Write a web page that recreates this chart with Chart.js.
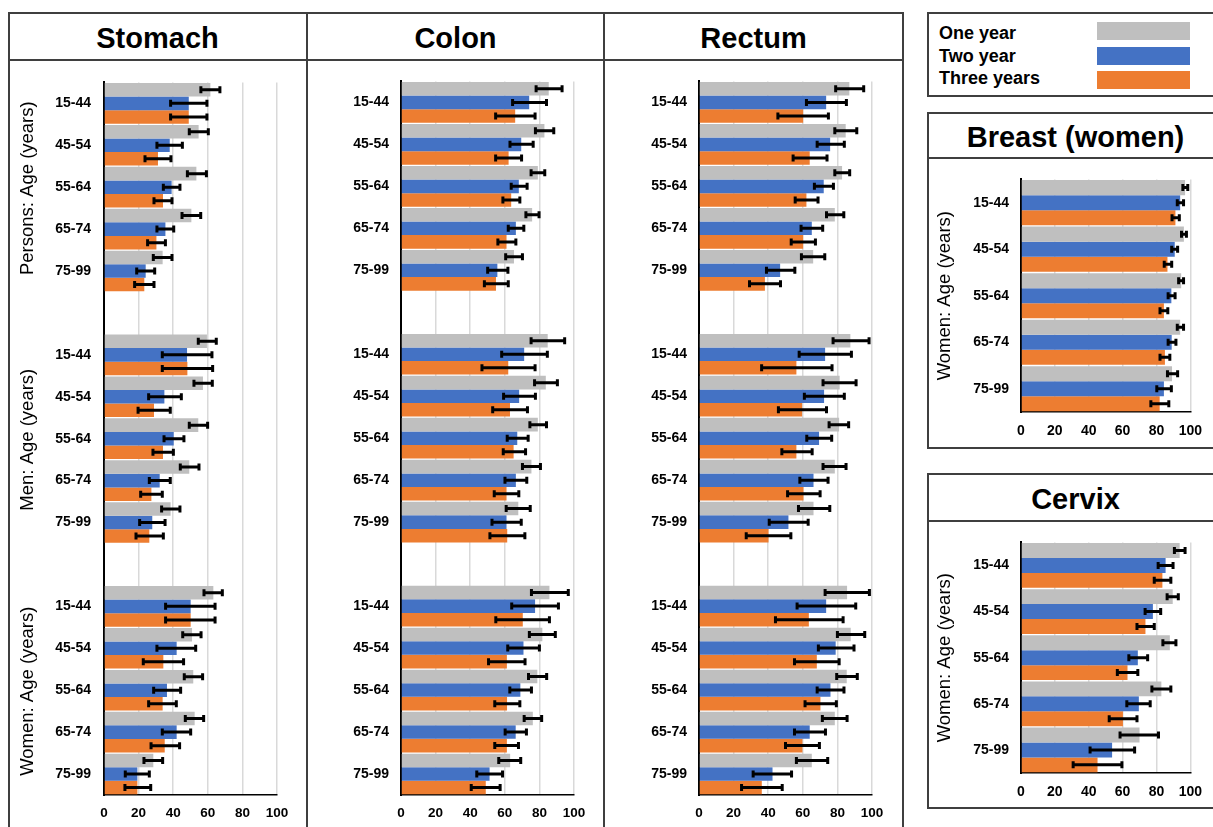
<!DOCTYPE html>
<html><head><meta charset="utf-8">
<script src="https://cdn.jsdelivr.net/npm/chart.js@4.4.1/dist/chart.umd.min.js"></script>
<style>
body{margin:0;width:1213px;height:827px;overflow:hidden;background:#fff;font-family:"Liberation Sans",Arial,sans-serif;position:relative}
.box{position:absolute;border:2px solid #3f3f3f;box-sizing:border-box}
.line{position:absolute;background:#3f3f3f}
.title{position:absolute;display:flex;align-items:center;justify-content:center;font-weight:bold;font-size:29px;color:#000;padding-top:5px;box-sizing:border-box}
canvas{position:absolute}
.lg{position:absolute;font-weight:bold;font-size:18px;color:#000;line-height:20px}
.sw{position:absolute;width:93px;height:18px}
</style></head>
<body>
<div class="box" style="left:8px;top:12px;width:896px;height:840px"></div>
<div class="line" style="left:8px;top:59px;width:896px;height:2px"></div>
<div class="line" style="left:306px;top:12px;width:2px;height:830px"></div>
<div class="line" style="left:603px;top:12px;width:2px;height:830px"></div>
<div class="title" style="left:8px;top:13px;width:299px;height:46px">Stomach</div>
<div class="title" style="left:307px;top:13px;width:297px;height:46px">Colon</div>
<div class="title" style="left:604px;top:13px;width:299px;height:46px">Rectum</div>

<div class="box" style="left:927px;top:12px;width:300px;height:85px"></div>
<div class="lg" id="lg0" style="left:939px;top:23px">One year</div>
<div class="lg" id="lg1" style="left:939px;top:46px">Two year</div>
<div class="lg" id="lg2" style="left:939px;top:68px">Three years</div>
<div class="sw" id="sw0" style="left:1097px;top:22px"></div>
<div class="sw" id="sw1" style="left:1097px;top:47px"></div>
<div class="sw" id="sw2" style="left:1097px;top:71px"></div>

<div class="box" style="left:927px;top:112px;width:300px;height:337px"></div>
<div class="line" style="left:927px;top:157px;width:300px;height:2px"></div>
<div class="title" style="left:927px;top:113px;width:297px;height:44px">Breast (women)</div>

<div class="box" style="left:927px;top:473px;width:300px;height:336px"></div>
<div class="line" style="left:927px;top:520px;width:300px;height:2px"></div>
<div class="title" style="left:927px;top:474px;width:297px;height:46px">Cervix</div>

<canvas id="stomach" width="296" height="766" style="left:10px;top:61px"></canvas>
<canvas id="colon" width="295" height="766" style="left:308px;top:61px"></canvas>
<canvas id="rectum" width="297" height="766" style="left:605px;top:61px"></canvas>
<canvas id="breast" width="284" height="288" style="left:929px;top:159px"></canvas>
<canvas id="cervix" width="284" height="285" style="left:929px;top:522px"></canvas>

<script>
// ---------- categories ----------
const ageGroups = ['15-44','45-54','55-64','65-74','75-99'];
const groupTitles = ['Persons: Age (years)','Men: Age (years)','Women: Age (years)'];
const seriesNames = ['One year','Two year','Three years'];
const seriesColors = ['#bfbfbf','#4472c4','#ed7d31'];
const xTicks = [0,20,40,60,80,100];

// ---------- Stomach (Persons, Men, Women x 5 ages) ----------
const stomachOne   = [61.5,54.7,53.4,50.5,33.9, 59.5,57.2,54.5,49.3,38.5, 63.2,50.9,51.6,52.4,28.5];
const stomachOneCI = [[56,67],[49.3,60.3],[48.2,59.2],[45.1,55.9],[28.5,39.3], [54.5,64.9],[52,62.6],[49.3,59.9],[44.1,54.9],[33.3,43.9], [57.8,68.4],[45.5,56.1],[46.4,57],[47,57.6],[23.1,33.9]];
const stomachTwo   = [49,38,39.1,35.5,24.1, 48,34.9,40.3,32.2,27.9, 50.1,42,36.4,42,19.3];
const stomachTwoCI = [[38.5,59.5],[30.6,45.3],[34.3,43.9],[30.6,40.3],[18.9,29.3], [33.7,62.4],[25.8,44.7],[34.7,46.2],[26.2,38.3],[20.6,35.3], [35.6,64.2],[30.6,53],[28.7,44.3],[33.7,50.1],[12.3,26.2]];
const stomachThree   = [49,31.2,34.1,30.3,23.3, 48.2,28.9,34.1,27.4,26.2, 50.1,34.3,33.9,35.1,19.3];
const stomachThreeCI = [[38.5,59.5],[23.7,38.7],[28.9,39.3],[25.2,35.5],[17.7,28.9], [33.7,62.8],[19.7,38.3],[28.3,40.1],[21.2,33.7],[18.5,34.3], [35.6,64.2],[22.7,46],[25.8,41.8],[27.2,43.7],[12.1,27]];

// ---------- Colon ----------
const colonOne   = [85.4,82.9,79.1,75.8,65.3, 84.8,83.7,79.1,75.4,67.8, 85.8,81.7,78.8,76.2,63.1];
const colonOneCI = [[78.1,93.1],[77.7,88.3],[75.2,83.1],[72.2,79.8],[60.5,70.2], [75.2,94.6],[77.2,90.4],[74.5,84.1],[70.2,80.6],[60.8,74.7], [75.4,96.7],[74.2,89.2],[73.7,84.2],[71.2,81.3],[56.5,69.2]];
const colonTwo   = [74.1,69.5,68.1,66.4,55.7, 71.2,68.3,67.2,66.4,61, 77.5,70.8,69,66.3,51.2];
const colonTwoCI = [[64.5,84.1],[63,76.4],[63.7,72.9],[62,71],[50.1,61.8], [58.2,84.6],[59.3,77.7],[61.4,73.5],[60.1,72.7],[52.6,69.5], [64,91],[61.7,80],[62.9,75.4],[60.2,72.5],[43.8,58.7]];
const colonThree   = [66,62.2,63.7,61,54.9, 62,63,65.1,61,61.4, 70.4,61.2,61.3,61.2,49];
const colonThreeCI = [[54.7,77.5],[54.7,69.7],[58.9,68.7],[56,66.4],[48.2,62], [46.8,77.5],[53,73.1],[59.1,72],[53.9,68.1],[51.4,71.6], [54.8,85.8],[50.6,71.7],[54.2,68.7],[54.2,67.9],[40.6,57.3]];

// ---------- Rectum ----------
const rectumOne   = [86.9,84.8,82.7,78.5,66, 87.5,81.3,81,78.5,66.2, 85.6,87.7,85.4,78.5,65.2];
const rectumOneCI = [[79,95.2],[78.5,91.2],[78.5,87.1],[73.7,83.7],[59.2,72.7], [77.5,98.3],[71.7,90.8],[75.2,86.5],[71.7,85],[57.5,75.6], [72.9,98.5],[80,95.8],[79.6,91.5],[71.3,85.6],[56.3,74.4]];
const rectumTwo   = [73.5,75.8,72.1,65.2,46.9, 72.9,72.3,69.4,66.2,51.7, 73.5,79,76,64,42.5];
const rectumTwoCI = [[62.1,85.2],[68.3,84],[66.7,77.7],[59,71.5],[39,55.4], [57.9,88.1],[60.9,84],[62.3,76.7],[58.3,74.6],[40.6,63.1], [56.7,90.6],[69,89.6],[68.3,83.8],[55.2,73.1],[31.3,53.5]];
const rectumThree   = [60.2,64,62.1,60.2,38.1, 56.3,59.6,56.3,60.4,40.2, 63.5,68.1,70.2,59.8,36.3];
const rectumThreeCI = [[45.6,74.8],[54.4,74],[55.6,68.8],[53.3,67.3],[29.2,47.1], [36.2,76.9],[45.9,73.7],[47.9,65.4],[51.2,70],[27.3,53.1], [44.2,83.3],[55.2,81],[61.3,79.4],[50,69.6],[24.6,48.1]];

// ---------- Breast (women) ----------
const breastOne   = [96.9,96.2,94.6,94,89.2];
const breastOneCI = [[95.6,98.5],[94.8,97.7],[93.1,96],[92.3,96],[86.5,92.5]];
const breastTwo   = [94,90.8,88.8,89,84.4];
const breastTwoCI = [[92.3,96],[89,92.5],[86.9,91],[86.9,91.5],[80.2,88.8]];
const breastThree   = [91.2,86.5,84.4,85,81.9];
const breastThreeCI = [[89.2,93.5],[84.6,89],[82.1,86.7],[82.1,87.9],[76.7,87.3]];

// ---------- Cervix ----------
const cervixOne   = [93.7,89.6,87.9,82.9,70];
const cervixOneCI = [[90.6,96.9],[86.3,92.9],[83.8,91.5],[77.3,88.5],[58.5,81.2]];
const cervixTwo   = [85.4,77.9,69,69.6,53.8];
const cervixTwoCI = [[81,89.8],[73.3,82.5],[63.7,74.8],[62.5,76.3],[40.8,67.1]];
const cervixThree   = [83.5,73.5,62.9,60.2,45.2];
const cervixThreeCI = [[78.7,88.5],[68.5,78.7],[56.9,69],[52.1,68.5],[30.8,59.6]];

// ---------- legend ----------
seriesNames.forEach((n,i)=>{document.getElementById('lg'+i).textContent=n;document.getElementById('sw'+i).style.background=seriesColors[i];});

// helpers
const withGaps = a => [...a.slice(0,5), null, ...a.slice(5,10), null, ...a.slice(10,15)];
const threeGroupLabels = withGaps([...ageGroups,...ageGroups,...ageGroups]).map(v=>v===null?'':v);

const errorBarPlugin = {
  id:'errorBars',
  afterDatasetsDraw(chart){
    const ctx = chart.ctx, xs = chart.scales.x;
    ctx.save();
    ctx.strokeStyle = '#000'; ctx.lineWidth = 3; ctx.lineCap = 'butt';
    chart.data.datasets.forEach((ds,i)=>{
      const meta = chart.getDatasetMeta(i);
      (ds.errorBars||[]).forEach((e,j)=>{
        if(!e) return;
        const el = meta.data[j]; if(!el) return;
        const y = el.y, x1 = xs.getPixelForValue(e[0]), x2 = xs.getPixelForValue(e[1]);
        ctx.beginPath();
        ctx.moveTo(x1,y); ctx.lineTo(x2,y);
        ctx.moveTo(x1,y-3.5); ctx.lineTo(x1,y+3.5);
        ctx.moveTo(x2,y-3.5); ctx.lineTo(x2,y+3.5);
        ctx.stroke();
      });
    });
    ctx.restore();
  }
};

const groupTitlePlugin = {
  id:'groupTitles',
  afterDraw(chart, args, opts){
    if(!opts || !opts.items) return;
    const ys = chart.scales.y, ctx = chart.ctx;
    opts.items.forEach(it=>{
      const y = (ys.getPixelForValue(it.first) + ys.getPixelForValue(it.last))/2 + (opts.dy||0);
      ctx.save();
      ctx.translate(opts.x, y); ctx.rotate(-Math.PI/2);
      ctx.font = '18.5px "Liberation Sans", Arial, sans-serif';
      ctx.fillStyle = '#000'; ctx.textAlign = 'center'; ctx.textBaseline = 'middle';
      ctx.fillText(it.text, 0, 0);
      ctx.restore();
    });
  }
};

function makeChart(id, labels, series, cis, o){
  const datasets = series.map((d,i)=>({
    label: seriesNames[i], data: d, errorBars: cis[i],
    backgroundColor: seriesColors[i], borderWidth: 0,
    categoryPercentage: 0.97, barPercentage: 1.0
  }));
  return new Chart(document.getElementById(id), {
    type:'bar',
    data:{labels, datasets},
    plugins:[errorBarPlugin, groupTitlePlugin],
    options:{
      indexAxis:'y', responsive:false, animation:false,
      layout:{padding:{top:o.padTop, right:o.padRight, left:0, bottom:0}},
      plugins:{legend:{display:false}, tooltip:{enabled:false}, groupTitles:{x:o.titleX, dy:o.titleDy||0, items:o.titles}},
      scales:{
        x:{
          min:0, max:100,
          afterBuildTicks(s){ s.ticks = xTicks.map(v=>({value:v})); },
          afterFit(s){ s.height = o.xHeight; },
          grid:{color:c=>c.tick && c.tick.value===0 ? 'rgba(0,0,0,0)' : '#d9d9d9', lineWidth:1.5, drawTicks:false},
          border:{display:true, color:'#000', width:1.5},
          ticks:{padding:o.xPad, color:'#000', font:{family:'"Liberation Sans", Arial, sans-serif', weight:'bold', size:o.xSize}, maxRotation:0}
        },
        y:{
          afterFit(s){ s.width = o.yWidth; },
          grid:{display:false, drawTicks:false},
          border:{display:true, color:'#000', width:2},
          ticks:{autoSkip:false, padding:o.yPad, color:'#000', font:{family:'"Liberation Sans", Arial, sans-serif', weight:'bold', size:14}}
        }
      }
    }
  });
}

const mainTitles = [
  {text:groupTitles[0], first:0, last:4},
  {text:groupTitles[1], first:6, last:10},
  {text:groupTitles[2], first:12, last:16}
];

makeChart('stomach', threeGroupLabels,
  [withGaps(stomachOne), withGaps(stomachTwo), withGaps(stomachThree)],
  [withGaps(stomachOneCI), withGaps(stomachTwoCI), withGaps(stomachThreeCI)],
  {padTop:17, padRight:29, yWidth:94, xHeight:32, xPad:10, xSize:13.5, yPad:13, titleX:18, titleDy:1, titles:mainTitles});
makeChart('colon', threeGroupLabels,
  [withGaps(colonOne), withGaps(colonTwo), withGaps(colonThree)],
  [withGaps(colonOneCI), withGaps(colonTwoCI), withGaps(colonThreeCI)],
  {padTop:17, padRight:29, yWidth:93, xHeight:32, xPad:10, xSize:13.5, yPad:12, titleX:0, titles:null});
makeChart('rectum', threeGroupLabels,
  [withGaps(rectumOne), withGaps(rectumTwo), withGaps(rectumThree)],
  [withGaps(rectumOneCI), withGaps(rectumTwoCI), withGaps(rectumThreeCI)],
  {padTop:17, padRight:30, yWidth:94, xHeight:32, xPad:10, xSize:13.5, yPad:12, titleX:0, titles:null});
makeChart('breast', ageGroups,
  [breastOne, breastTwo, breastThree],
  [breastOneCI, breastTwoCI, breastThreeCI],
  {padTop:18, padRight:19, yWidth:92, xHeight:35, xPad:11, xSize:14, yPad:12, titleX:16, titles:[{text:'Women: Age (years)', first:0, last:4}]});
makeChart('cervix', ageGroups,
  [cervixOne, cervixTwo, cervixThree],
  [cervixOneCI, cervixTwoCI, cervixThreeCI],
  {padTop:17, padRight:19, yWidth:92, xHeight:34, xPad:11, xSize:14, yPad:12, titleX:16, titles:[{text:'Women: Age (years)', first:0, last:4}]});
</script>
</body></html>
